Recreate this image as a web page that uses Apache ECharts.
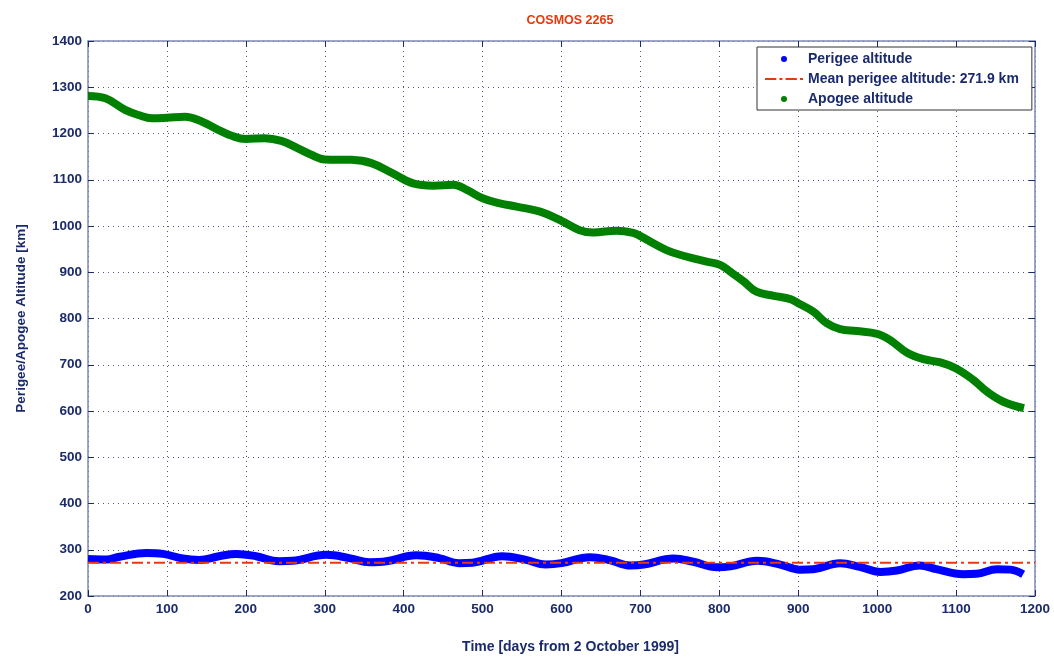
<!DOCTYPE html>
<html><head><meta charset="utf-8">
<script src="https://cdn.jsdelivr.net/npm/echarts@6/dist/echarts.min.js"></script>
<style>html,body{margin:0;padding:0;background:#fff}#c{width:1054px;height:658px}</style>
</head><body><div id="c"></div>
<script>
const apogeeDays = [0,22,47,64,81,100,123,144,165,182,200,224,245,266,283,300,334,359,385,412,438,463,480,500,522,543,573,600,623,640,670,691,700,733,758,784,801,814,831,847,869,890,900,919,936,953,974,1000,1016,1038,1059,1080,1100,1122,1139,1160,1186];
const apogeeAlt = [1281,1276,1251,1240,1233,1234,1236,1226,1208,1195,1188,1190,1184,1168,1154,1144,1143,1136,1115,1092,1087,1089,1078,1060,1049,1042,1031,1011,991,986,990,985,978,948,934,923,916,901,880,858,849,842,833,815,790,777,773,767,754,726,712,705,692,667,642,620,606];
const perigeeDays = [0,23,40,74,95,120,141,166,188,213,242,259,302,331,357,378,416,445,470,487,525,555,580,600,636,662,687,704,742,767,797,814,848,877,902,919,953,978,1004,1025,1054,1075,1109,1126,1152,1169,1185];
const perigeeAlt = [280,279,285,293,291,281,278,286,291,286,275,276,289,282,273,275,288,282,271,272,286,278,268,271,284,277,266,268,281,274,262,264,276,268,257,258,271,263,252,255,266,258,247,248,258,257,247];
const meanPerigee = 271.9;
const xTicks = [0,100,200,300,400,500,600,700,800,900,1000,1100,1200];
const yTicks = [200,300,400,500,600,700,800,900,1000,1100,1200,1300,1400];

const txt = '#1b2a6b';
const axisCol = '#7d89b3';
const font = 'Liberation Sans, Arial, sans-serif';
const zip = (a,b)=>a.map((v,i)=>[v,b[i]]);

const chart = echarts.init(document.getElementById('c'), null, {renderer:'canvas'});
const gridLine = {show:true, lineStyle:{color:'#4a5a90', type:[1,4], width:1}};
chart.setOption({
  animation:false,
  title:{text:'COSMOS 2265', left:565, top:9, textAlign:'center',
    textStyle:{color:'#e8380d', fontSize:12.5, fontWeight:'bold', fontFamily:font}},
  grid:{left:88, right:19, top:41, bottom:62, show:false, containLabel:false, outerBoundsMode:'none'},
  legend:{
    orient:'vertical', left:757, top:47,
    backgroundColor:'#fff', borderColor:'#333', borderWidth:1,
    padding:[5,13,4,8], itemGap:6, itemWidth:38, itemHeight:6,
    textStyle:{color:txt, fontSize:14, fontWeight:'bold', fontFamily:font},
    data:[
      {name:'Perigee altitude', icon:'circle', itemStyle:{color:'#0000ff'}},
      {name:'Mean perigee altitude: 271.9 km', icon:'path://M0,0h11v2h-11z M14,0h3v2h-3z M20,0h11v2h-11z M34,0h3v2h-3z', itemStyle:{color:'#e8380d'}},
      {name:'Apogee altitude', icon:'circle', itemStyle:{color:'#008000'}}
    ]
  },
  xAxis:[{
    type:'value', min:0, max:1200, interval:100,
    name:'Time [days from 2 October 1999]', nameLocation:'middle', nameGap:44,
    nameTextStyle:{color:txt, fontSize:14, fontWeight:'bold', fontFamily:font, padding:[0,0,0,18]},
    axisLine:{show:true, onZero:false, lineStyle:{color:axisCol, width:1.5}},
    axisTick:{show:true, inside:true, length:6, lineStyle:{color:txt}},
    axisLabel:{color:txt, fontSize:13.5, fontWeight:'bold', fontFamily:font, margin:6,
      formatter:v=>xTicks.includes(v)?String(v):''},
    splitLine:gridLine
  },{
    type:'value', position:'top', min:0, max:1200, interval:100,
    axisLine:{show:true, onZero:false, lineStyle:{color:axisCol, width:1.5}},
    axisTick:{show:true, inside:true, length:6, lineStyle:{color:txt}},
    axisLabel:{show:false}, splitLine:{show:false}
  }],
  yAxis:[{
    type:'value', min:200, max:1400, interval:100,
    name:'Perigee/Apogee Altitude [km]', nameLocation:'middle', nameGap:60, nameRotate:90,
    nameTextStyle:{color:txt, fontSize:13.5, fontWeight:'bold', fontFamily:font},
    axisLine:{show:true, onZero:false, lineStyle:{color:axisCol, width:1.5}},
    axisTick:{show:true, inside:true, length:6, lineStyle:{color:txt}},
    axisLabel:{color:txt, fontSize:13.5, fontWeight:'bold', fontFamily:font, margin:6,
      formatter:v=>yTicks.includes(v)?String(v):''},
    splitLine:gridLine
  },{
    type:'value', position:'right', min:200, max:1400, interval:100,
    axisLine:{show:true, onZero:false, lineStyle:{color:axisCol, width:1.5}},
    axisTick:{show:true, inside:true, length:6, lineStyle:{color:txt}},
    axisLabel:{show:false}, splitLine:{show:false}
  }],
  series:[
    {name:'Perigee altitude', type:'line', smooth:0.4, symbol:'none', z:3,
      data:zip(perigeeDays, perigeeAlt), lineStyle:{color:'#0000ff', width:8}, itemStyle:{color:'#0000ff'}},
    {name:'Mean perigee altitude: 271.9 km', type:'line', symbol:'none', z:4,
      data:[[0,meanPerigee],[1200,meanPerigee]], lineStyle:{color:'#e8380d', width:2, type:[11,4,3,4]}, itemStyle:{color:'#e8380d'}},
    {name:'Apogee altitude', type:'line', smooth:0.4, symbol:'none', z:3,
      data:zip(apogeeDays, apogeeAlt), lineStyle:{color:'#008000', width:8}, itemStyle:{color:'#008000'}}
  ]
});
</script></body></html>
